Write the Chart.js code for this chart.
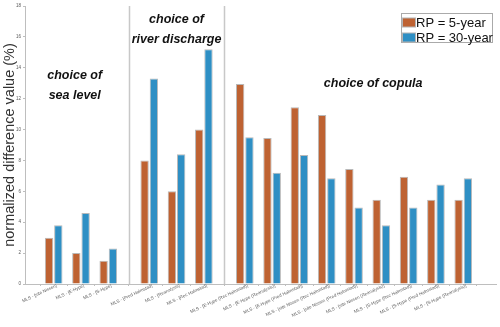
<!DOCTYPE html>
<html>
<head>
<meta charset="utf-8">
<script src="https://cdn.jsdelivr.net/npm/chart.js@4/dist/chart.umd.min.js"></script>
<style>
html,body{margin:0;padding:0;background:#fff;}
#wrap{width:500px;height:327px;}
</style>
</head>
<body>
<div id="wrap"><canvas id="c" width="500" height="327"></canvas></div>
<script>
const categories = [
  "MLS - [site Nissen]",
  "MLS - [E-Hype]",
  "MLS - [S-Hype]",
  "MLS - [Pred Halmstad]",
  "MLS - [Reanalysis]",
  "MLS - [Rec Halmstad]",
  "MLS - [E-Hype (Rec Halmstad)]",
  "MLS - [E-Hype (Reanalysis)]",
  "MLS - [E-Hype (Pred Halmstad)]",
  "MLS - [site Nissen (Rec Halmstad)]",
  "MLS - [site Nissen (Pred Halmstad)]",
  "MLS - [site Nissen (Reanalysis)]",
  "MLS - [S-Hype (Rec Halmstad)]",
  "MLS - [S-Hype (Pred Halmstad)]",
  "MLS - [S-Hype (Reanalysis)]"
];
const groupOf = [0,0,0,1,1,1,2,2,2,2,2,2,2,2,2];
const rp5  = [3.0, 2.0, 1.5, 8.0, 6.0, 10.0, 12.95, 9.45, 11.45, 10.95, 7.45, 5.45, 6.95, 5.45, 5.45];
const rp30 = [3.8, 4.6, 2.3, 13.3, 8.4, 15.2, 9.5, 7.2, 8.35, 6.85, 4.95, 3.8, 4.95, 6.45, 6.85];
const seriesNames = ["RP = 5-year", "RP = 30-year"];
const yTicks = [0,2,4,6,8,10,12,14,16,18];
const groupTitles = [
  {lines:["choice of","sea level"], x:1.77, y:[13.5, 12.2]},
  {lines:["choice of","river discharge"], x:5.5, y:[17.1, 15.8]},
  {lines:["choice of copula"], x:12.7, y:[13.0]}
];
const dividers = [3.75, 7.25];

const xPos = categories.map((c,i)=> i + 1 + 0.5*groupOf[i]);
const orange = 'rgb(190,98,50)';
const blue = 'rgb(46,143,196)';

const extras = {
  id:'extras',
  afterDatasetsDraw(chart){
    const ctx = chart.ctx, xs = chart.scales.x, ys = chart.scales.y, a = chart.chartArea;
    ctx.save();
    ctx.strokeStyle = 'rgb(200,200,200)';
    ctx.lineWidth = 1.5;
    dividers.forEach(d=>{
      const px = Math.round(xs.getPixelForValue(d))+0.5;
      ctx.beginPath(); ctx.moveTo(px, a.top); ctx.lineTo(px, a.bottom); ctx.stroke();
    });
    ctx.fillStyle = '#111';
    ctx.font = 'italic bold 12.5px "Liberation Sans", Arial, sans-serif';
    ctx.textAlign = 'center'; ctx.textBaseline = 'middle';
    groupTitles.forEach(g=>{
      g.lines.forEach((t,k)=>{
        ctx.fillText(t, xs.getPixelForValue(g.x), ys.getPixelForValue(g.y[k]));
      });
    });
    // legend
    const lx = 401, ly = 13, lw = 91, lh = 29;
    ctx.fillStyle = '#fff';
    ctx.fillRect(lx, ly, lw, lh);
    ctx.strokeStyle = 'rgb(170,170,170)'; ctx.lineWidth = 1;
    ctx.strokeRect(lx+0.5, ly+0.5, lw, lh);
    const cols = [orange, blue];
    ctx.font = '13px "Liberation Sans", Arial, sans-serif';
    ctx.textAlign = 'left';
    seriesNames.forEach((n,i)=>{
      const cy = ly + 5 + i*15;
      ctx.fillStyle = cols[i];
      ctx.fillRect(lx+1.5, cy, 13, 9);
      ctx.strokeStyle = 'rgb(180,180,180)';
      ctx.strokeRect(lx+1.5, cy, 13, 9);
      ctx.fillStyle = '#111';
      ctx.fillText(n, lx+15, cy+5);
    });
    ctx.restore();
  }
};

new Chart(document.getElementById('c'), {
  type:'bar',
  data:{
    datasets:[
      {label:seriesNames[0], data:xPos.map((x,i)=>({x:x, y:rp5[i]})), backgroundColor:orange, borderColor:'rgb(185,185,185)', borderWidth:1, categoryPercentage:0.68, barPercentage:0.9},
      {label:seriesNames[1], data:xPos.map((x,i)=>({x:x, y:rp30[i]})), backgroundColor:blue, borderColor:'rgb(185,185,185)', borderWidth:1, categoryPercentage:0.68, barPercentage:0.9}
    ]
  },
  options:{
    responsive:false,
    animation:false,
    layout:{padding:{top:6, right:4, left:0, bottom:0}},
    plugins:{legend:{display:false}, tooltip:{enabled:false}},
    scales:{
      x:{
        type:'linear', min:-0.05, max:17.2, offset:false,
        afterBuildTicks(s){ s.ticks = xPos.map(v=>({value:v})); },
        afterFit(s){ s.height = 43; },
        grid:{drawOnChartArea:false, drawTicks:true, tickLength:2, color:'rgb(190,190,190)'},
        border:{color:'rgb(190,190,190)', width:1},
        ticks:{
          autoSkip:false, minRotation:25, maxRotation:25, padding:-3, labelOffset:3,
          font:{size:4.5, family:'"Liberation Sans", Arial, sans-serif'}, color:'rgb(90,90,90)',
          callback:(v,i)=>categories[i]
        }
      },
      y:{
        min:0, max:18,
        afterBuildTicks(s){ s.ticks = yTicks.map(v=>({value:v})); },
        afterFit(s){ s.width = 25; },
        grid:{drawOnChartArea:false, drawTicks:true, tickLength:2, color:'rgb(190,190,190)'},
        border:{color:'rgb(190,190,190)', width:1},
        ticks:{font:{size:4.5, family:'"Liberation Sans", Arial, sans-serif'}, color:'rgb(90,90,90)', padding:2},
        title:{display:true, text:'normalized difference value (%)', color:'#333', padding:{top:1,bottom:0},
          font:{size:14.5, family:'"Liberation Sans", Arial, sans-serif'}}
      }
    }
  },
  plugins:[extras]
});
</script>
</body>
</html>
